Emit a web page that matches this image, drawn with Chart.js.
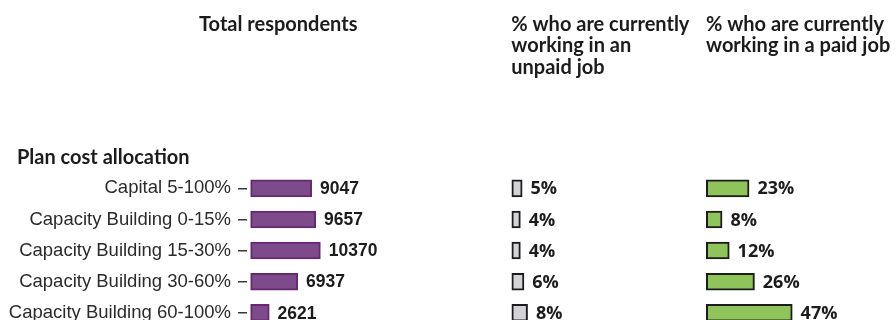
<!DOCTYPE html>
<html>
<head>
<meta charset="utf-8">
<script src="https://cdn.jsdelivr.net/npm/chart.js@4/dist/chart.umd.min.js"></script>
<style>
  html, body { margin: 0; padding: 0; background: #fff; overflow: hidden; }
  #wrap { position: relative; width: 895px; height: 340px; }
</style>
</head>
<body>
<div id="wrap"><canvas id="chart"></canvas></div>
<script>
const categories = [
  "Capital 5-100%",
  "Capacity Building 0-15%",
  "Capacity Building 15-30%",
  "Capacity Building 30-60%",
  "Capacity Building 60-100%",
];
const totalRespondents = [9047, 9657, 10370, 6937, 2621];
const pctUnpaid = [5, 4, 4, 6, 8];
const pctPaid = [23, 8, 12, 26, 47];

const groupLabel = "Plan cost allocation";
const headerTotal = ["Total respondents"];
const headerUnpaid = ["% who are currently", "working in an", "unpaid job"];
const headerPaid = ["% who are currently", "working in a paid job"];

const HEAD_FONT = "bold 20px Lato, 'Liberation Sans', sans-serif";
const INK = "#1c1c1c";

// etichette valore a destra di ogni barra + intestazioni delle colonne
const labelsPlugin = {
  id: "labels",
  afterDatasetsDraw(chart) {
    const ctx = chart.ctx;
    ctx.save();
    ctx.fillStyle = INK;
    ctx.textBaseline = "middle";
    ctx.textAlign = "left";
    chart.data.datasets.forEach((ds, i) => {
      const meta = chart.getDatasetMeta(i);
      ctx.font = i === 0
        ? "bold 17.5px 'Liberation Sans', Arial, sans-serif"
        : "bold 18px 'Open Sans', sans-serif";
      meta.data.forEach((bar, j) => {
        const v = ds.data[j];
        const txt = i === 0 ? String(v) : v + "%";
        ctx.fillText(txt, bar.x + 9, bar.y + 1);
      });
    });
    ctx.restore();
  },
  afterDraw(chart) {
    const ctx = chart.ctx;
    const s = chart.scales;
    ctx.save();
    ctx.fillStyle = INK;
    ctx.font = HEAD_FONT;
    ctx.textBaseline = "alphabetic";
    ctx.textAlign = "left";
    const lineH = 21.5;
    headerTotal.forEach((t, k) => ctx.fillText(t, s.x1.left - 48, 30.5 + k * lineH));
    headerUnpaid.forEach((t, k) => ctx.fillText(t, s.x2.left + 3, 30.5 + k * lineH));
    headerPaid.forEach((t, k) => ctx.fillText(t, s.x3.left + 3, 30.5 + k * lineH));
    ctx.fillText(groupLabel, 17, 164);
    ctx.restore();
  },
};

const hiddenX = (min, max, weight) => ({
  type: "linear",
  position: "bottom",
  stack: "cols",
  stackWeight: weight,
  min: min,
  max: max,
  ticks: { display: false },
  grid: { display: false },
  border: { display: false },
});

const barStyle = {
  grouped: false,
  barPercentage: 0.5,
  categoryPercentage: 1,
  borderWidth: 2,
  inflateAmount: 1,
  borderSkipped: false,
};

new Chart(document.getElementById("chart"), {
  type: "bar",
  data: {
    labels: categories,
    datasets: [
      { ...barStyle, label: "Total respondents", data: totalRespondents, xAxisID: "x1",
        backgroundColor: "#7d4b8b", borderColor: "#66296f" },
      { ...barStyle, label: "Unpaid", data: pctUnpaid, xAxisID: "x2",
        backgroundColor: "#d3d3d7", borderColor: INK },
      { ...barStyle, label: "Paid", data: pctPaid, xAxisID: "x3",
        backgroundColor: "#8fc45a", borderColor: INK },
    ],
  },
  options: {
    indexAxis: "y",
    responsive: true,
    maintainAspectRatio: false,
    animation: false,
    layout: { padding: { top: 172.8, left: 0, right: 0, bottom: 3.7 } },
    plugins: { legend: { display: false }, tooltip: { enabled: false } },
    scales: {
      y: {
        type: "category",
        position: "left",
        afterFit: (scale) => { scale.width = 247; scale.paddingTop = 0; scale.paddingBottom = 0; },
        grid: {
          display: true, drawOnChartArea: false, drawTicks: true,
          tickLength: 9, offset: false, color: "#3a3a3a", lineWidth: 1.5,
        },
        border: { display: false },
        ticks: { color: "#2b2b2b", padding: 7, font: { family: "'Liberation Sans', Arial, sans-serif", size: 18.5 } },
      },
      x1: hiddenX(-652, 38961, 261.3),
      x2: hiddenX(-2.33, 105.83, 194.7),
      x3: hiddenX(-2.22, 104.45, 192),
    },
  },
  plugins: [labelsPlugin],
});
</script>
</body>
</html>
